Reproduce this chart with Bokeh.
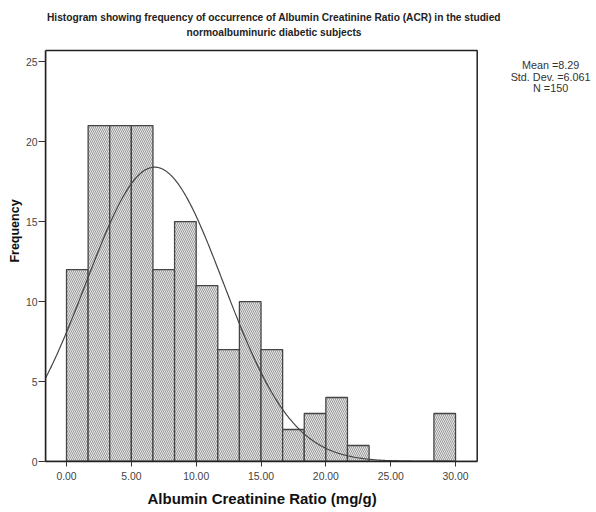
import numpy as np
from bokeh.plotting import figure
from bokeh.models import Range1d, Label, Title, NumeralTickFormatter, FixedTicker, ColumnDataSource
from bokeh.embed import file_html
from bokeh.resources import INLINE

# ---- data ----
counts = [12, 21, 21, 21, 12, 15, 11, 7, 10, 7, 2, 3, 4, 1, 0, 0, 0, 3]
bin_start = 0.0
bin_end = 30.0
x_ticks = [0, 5, 10, 15, 20, 25, 30]
y_ticks = [0, 5, 10, 15, 20, 25]
stats_lines = ["Mean =8.29", "Std. Dev. =6.061", "N =150"]
# normal curve as drawn in the reference
curve_center = 6.8
curve_sd = 5.3
curve_peak = 18.4

title_lines = ["Histogram showing frequency of occurrence of Albumin Creatinine Ratio (ACR) in the studied",
               "normoalbuminuric diabetic subjects"]
x_label = "Albumin Creatinine Ratio (mg/g)"
y_label = "Frequency"

FONT = "Liberation Sans"

# chart box (axis extent) in data units
box_left, box_right = -1.62, 31.67
box_bottom, box_top = 0.0, 25.7

bin_width = (bin_end - bin_start) / len(counts)
lefts = [bin_start + i * bin_width for i in range(len(counts))]
rights = [l + bin_width for l in lefts]
bars = ColumnDataSource(dict(left=lefts, right=rights, top=counts))

# the frame covers the title area and the right margin so that
# the title and the statistics text can be drawn as labels there
p = figure(width=596, height=512,
           x_range=Range1d(box_left, 40.87), y_range=Range1d(box_bottom, 28.82),
           output_backend="svg", toolbar_location=None,
           min_border_left=45, min_border_right=0,
           min_border_top=0, min_border_bottom=50,
           background_fill_color="white", border_fill_color="white")
p.title.text = ""
p.outline_line_color = None
p.xgrid.visible = False
p.ygrid.visible = False

p.quad(left="left", right="right", top="top", bottom=0, source=bars,
       fill_color="#e6e6e6", line_color="#444", line_width=1.3,
       hatch_pattern="left_diagonal_line", hatch_color="#888",
       hatch_scale=4, hatch_weight=0.8)

xs = np.linspace(box_left, box_right, 400)
ys = curve_peak * np.exp(-0.5 * ((xs - curve_center) / curve_sd) ** 2)
p.line(xs, ys, line_color="#444", line_width=1.2)

# chart box (top and right edges; left/bottom are the axis lines)
p.quad(left=[box_left], right=[box_right], bottom=[box_bottom], top=[box_top],
       fill_color=None, line_color="#222", line_width=1.5)

for ax in (p.xaxis[0], p.yaxis[0]):
    ax.axis_line_color = "#222"
    ax.axis_line_width = 1.5
    ax.major_tick_in = 0
    ax.major_tick_line_color = "#333"
    ax.minor_tick_line_color = None
    ax.major_label_text_font = FONT
    ax.major_label_text_font_size = "10.4px"
    ax.major_label_text_color = "#444"

p.xaxis.bounds = (box_left, box_right)
p.xaxis.ticker = FixedTicker(ticks=x_ticks)
p.xaxis.formatter = NumeralTickFormatter(format="0.00")
p.xaxis.major_tick_out = 5
p.xaxis.major_label_standoff = 5
p.xaxis.axis_label = None

# x axis title placed under the chart box (not under the whole frame)
xt = Title(text=x_label, align="left", offset=102, standoff=11, text_font=FONT,
           text_font_size="15px", text_font_style="bold", text_color="#111")
p.add_layout(xt, "below")

p.yaxis.bounds = (box_bottom, box_top)
p.yaxis.ticker = FixedTicker(ticks=y_ticks)
p.yaxis.major_tick_out = 7
p.yaxis.major_label_standoff = 1
p.yaxis.axis_label = y_label
p.yaxis.axis_label_standoff = 1
p.yaxis.axis_label_text_font = FONT
p.yaxis.axis_label_text_font_style = "bold"
p.yaxis.axis_label_text_font_size = "12.5px"
p.yaxis.axis_label_text_color = "#111"

# chart title above the chart box
title_x = 16.0
title_y = [27.76, 26.82]
for txt, yy in zip(title_lines, title_y):
    p.add_layout(Label(x=title_x, y=yy, text=txt, text_align="center",
                       text_baseline="middle", text_font=FONT,
                       text_font_size="10.2px", text_font_style="bold",
                       text_color="#222"))

# statistics text to the right of the chart box
stats_x = 37.33
stats_y = [24.76, 24.02, 23.33]
for txt, yy in zip(stats_lines, stats_y):
    p.add_layout(Label(x=stats_x, y=yy, text=txt, text_align="center",
                       text_baseline="middle", text_font=FONT,
                       text_font_size="10.8px", text_color="#333"))

open("out.html", "w").write(file_html(p, INLINE))
